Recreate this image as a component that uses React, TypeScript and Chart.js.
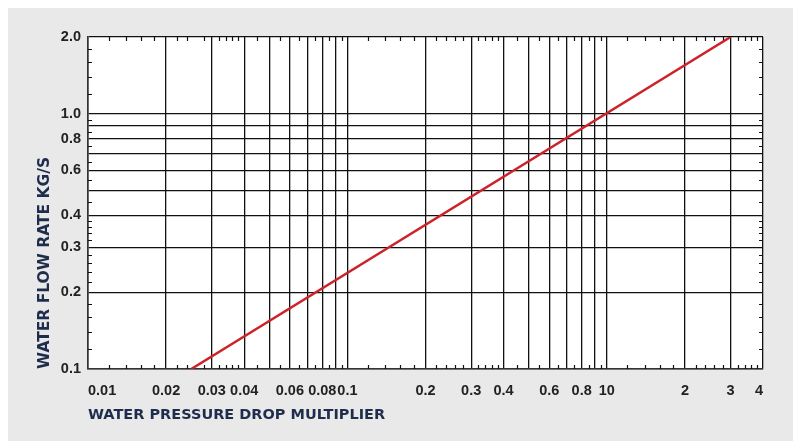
import React, { useEffect, useRef } from 'react';
import { Chart, registerables } from 'chart.js';
Chart.register(...registerables);

const X_TICKS = [0.01, 0.02, 0.03, 0.04, 0.05, 0.06, 0.07, 0.08, 0.09, 0.1, 0.2, 0.3, 0.4, 0.5, 0.6, 0.7, 0.8, 0.9, 1, 2, 3, 4];
const X_LABELS = ['0.01', '0.02', '0.03', '0.04', '', '0.06', '', '0.08', '', '0.1', '0.2', '0.3', '0.4', '', '0.6', '', '0.8', '', '10', '2', '3', '4'];
const Y_TICKS = [0.1, 0.2, 0.3, 0.4, 0.5, 0.6, 0.7, 0.8, 0.9, 1, 2];
const Y_LABELS = ['0.1', '0.2', '0.3', '0.4', '', '0.6', '', '0.8', '', '1.0', '2.0'];
const X_MINOR = [0.012, 0.014, 0.016, 0.018, 0.022, 0.024, 0.028, 0.032, 0.034, 0.036, 0.038, 0.045, 0.055, 0.065, 0.075, 0.085, 0.095,
  0.12, 0.14, 0.16, 0.18, 0.22, 0.24, 0.26, 0.28, 0.32, 0.34, 0.36, 0.38, 0.45, 0.55, 0.65, 0.75, 0.85, 0.95,
  1.2, 1.4, 1.6, 1.8, 2.2, 2.4, 2.6, 2.8, 3.2, 3.4, 3.6, 3.8];
const Y_MINOR = [0.12, 0.14, 0.16, 0.18, 0.22, 0.24, 0.26, 0.28, 0.32, 0.34, 0.36, 0.38, 0.45, 0.55, 0.65, 0.75, 0.85, 0.95, 1.2, 1.4, 1.6, 1.8];
const LINE_X = [0.025, 3];
const LINE_Y = [0.1, 2.0];

const TICK_FONT = { family: "'Liberation Sans Narrow', 'Liberation Sans', Arial, sans-serif", size: 14.5, weight: 'bold' as const };
const NAVY = '#1f2d4d';

export default function App() {
  const ref = useRef<HTMLCanvasElement>(null);
  useEffect(() => {
    const plotBg = {
      id: 'plotBg',
      beforeDraw(chart: any) {
        const { ctx, chartArea: a } = chart;
        ctx.save();
        ctx.fillStyle = '#ffffff';
        ctx.fillRect(a.left, a.top, a.right - a.left, a.bottom - a.top);
        ctx.restore();
      },
    };
    const minor = {
      id: 'minorTicks',
      beforeDatasetsDraw(chart: any) {
        const { ctx, chartArea: a, scales } = chart;
        const len = 4;
        ctx.save();
        ctx.strokeStyle = '#111';
        ctx.lineWidth = 1.2;
        ctx.beginPath();
        X_MINOR.forEach((v) => {
          const px = Math.round(scales.x.getPixelForValue(v)) + 0.5;
          ctx.moveTo(px, a.bottom);
          ctx.lineTo(px, a.bottom - len);
          ctx.moveTo(px, a.top);
          ctx.lineTo(px, a.top + len);
        });
        Y_MINOR.forEach((v) => {
          const py = Math.round(scales.y.getPixelForValue(v)) + 0.5;
          ctx.moveTo(a.left, py);
          ctx.lineTo(a.left + len, py);
          ctx.moveTo(a.right, py);
          ctx.lineTo(a.right - len, py);
        });
        ctx.stroke();
        ctx.restore();
      },
    };
    const chart = new Chart(ref.current as HTMLCanvasElement, {
      type: 'scatter',
      data: {
        datasets: [{
          data: LINE_X.map((x, i) => ({ x, y: LINE_Y[i] })),
          showLine: true,
          borderColor: '#cd2229',
          borderWidth: 2.5,
          pointRadius: 0,
          fill: false,
        }],
      },
      options: {
        responsive: false,
        animation: false,
        layout: { padding: { left: 0, right: 38, top: 29, bottom: 0 } },
        plugins: { legend: { display: false }, tooltip: { enabled: false } },
        scales: {
          x: {
            type: 'logarithmic',
            min: 0.01,
            max: 4,
            afterBuildTicks: (s: any) => { s.ticks = X_TICKS.map((v) => ({ value: v })); },
            afterFit: (s: any) => { s.height = 72; },
            grid: { color: '#111', lineWidth: 1.3, drawTicks: false },
            border: { color: '#333', width: 1.6 },
            ticks: {
              autoSkip: false,
              maxRotation: 0,
              align: 'inner',
              padding: 13,
              color: '#222',
              font: TICK_FONT,
              callback: (_v: any, i: number) => X_LABELS[i],
            },
            title: {
              display: true,
              text: 'WATER PRESSURE DROP MULTIPLIER',
              align: 'start',
              color: NAVY,
              font: { family: "'DejaVu Sans', sans-serif", size: 14.5, weight: 'bold' },
              padding: { top: 0, bottom: 17 },
            },
          },
          y: {
            type: 'logarithmic',
            min: 0.1,
            max: 2,
            afterBuildTicks: (s: any) => { s.ticks = Y_TICKS.map((v) => ({ value: v })); },
            afterFit: (s: any) => { s.width = 80; },
            grid: { color: '#111', lineWidth: 1.3, drawTicks: false },
            border: { color: '#333', width: 1.6 },
            ticks: {
              autoSkip: false,
              padding: 7,
              color: '#222',
              font: TICK_FONT,
              callback: (_v: any, i: number) => Y_LABELS[i],
            },
            title: {
              display: true,
              text: 'WATER FLOW RATE KG/S',
              align: 'start',
              color: NAVY,
              font: { family: "'DejaVu Sans', sans-serif", size: 15.5, weight: 'bold' },
              padding: { top: 28, bottom: 0 },
            },
          },
        },
      },
      plugins: [plotBg, minor],
    } as any);
    return () => chart.destroy();
  }, []);
  return (
    <div style={{ width: 793, height: 433, background: '#e9e9e9' }}>
      <canvas ref={ref} width={793} height={433} style={{ display: 'block' }} />
    </div>
  );
}
